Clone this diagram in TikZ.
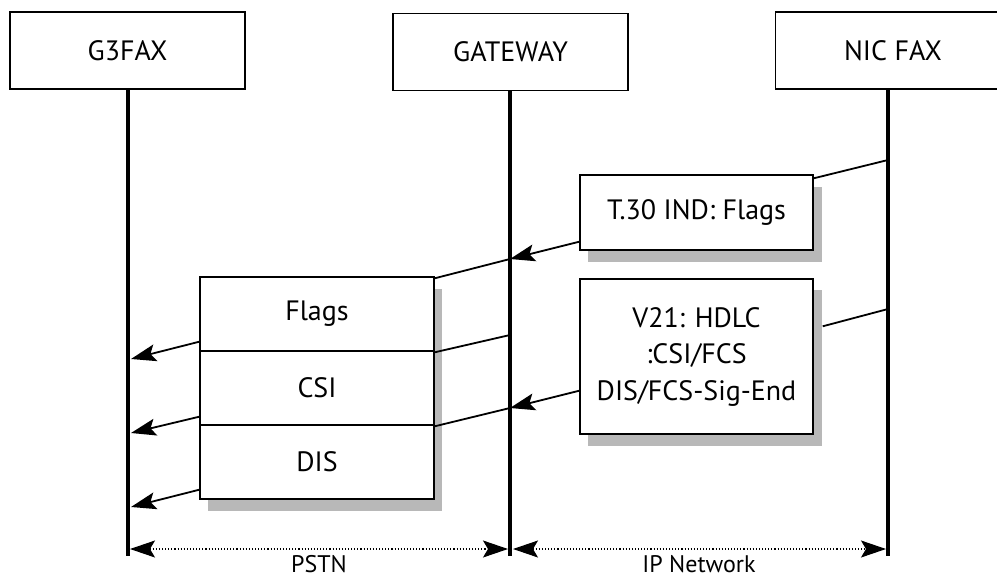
\documentclass[tikz,border=0pt]{standalone}
\usepackage{fontspec}
\setmainfont{PT Sans}
\usetikzlibrary{arrows.meta,calc}

\tikzset{
  head/.tip={Stealth[length=25pt,width=17pt,inset=5pt]},
  party/.style={draw,line width=1.4pt,minimum width=235pt,minimum height=77pt,inner sep=0pt,font=\fontsize{28}{32}\selectfont},
  msg/.style={draw,line width=1.4pt,fill=white,inner sep=0pt,align=center,font=\fontsize{28}{36.5}\selectfont},
  shade/.style={fill=black!28,draw=none},
  life/.style={line width=3.2pt},
  sig/.style={line width=1.8pt},
  sigarrow/.style={sig,-head},
  netspan/.style={dotted,line width=1.1pt,head-head},
  zone/.style={font=\fontsize{24}{26}\selectfont,anchor=base,inner sep=0pt}
}

\begin{document}
\begin{tikzpicture}[x=1pt,y=-1pt]
\useasboundingbox (0,0) rectangle (997,579);

% the three parties
\node[party] (g3)  at (127.5,50.5) {G3FAX};
\node[party] (gw)  at (510.5,52)   {GATEWAY};
\node[party] (nic) at (893,50.5)   {NIC FAX};

% lifelines
\coordinate (g3end)  at (128,556);
\coordinate (gwend)  at (510,556);
\coordinate (nicend) at (888,556);
\draw[life] (g3end |- g3.south) -- (g3end);
\draw[life] (gwend |- gw.south) -- (gwend);
\draw[life] (nicend |- nic.south) -- (nicend);

% shadows
\fill[shade] (588,187) rectangle (822,262);
\fill[shade] (588,290) rectangle (822,446);
\fill[shade] (208,289) rectangle (442,511);

% messages over the IP side
\node[msg,minimum width=233pt,minimum height=75pt] (t30) at (696.5,212.5) {T.30 IND: Flags};
\node[msg,minimum width=233pt,minimum height=155pt] (v21) at (696.5,356.5) {V21: HDLC\\:CSI/FCS\\DIS/FCS-Sig-End};

% frames over the PSTN side
\node[msg,minimum width=234pt,minimum height=74pt] (flags) at (317,314) {Flags};
\node[msg,minimum width=234pt,minimum height=74pt] (csi)   at (317,388) {CSI};
\node[msg,minimum width=234pt,minimum height=74pt] (dis)   at (317,462) {DIS};

% lifeline points
\coordinate (n1) at (888,160);
\coordinate (n2) at (888,309);
\coordinate (w1) at (510,259);
\coordinate (w2) at (510,335);
\coordinate (w3) at (510,408);
\coordinate (a1) at (131,359);
\coordinate (a2) at (131,433);
\coordinate (a3) at (131,507);

% signals
\draw[sig] (n1) -- ($(t30.north east)+(0,4)$);
\draw[sigarrow] ($(t30.south west)+(0,-9)$) -- (w1);
\draw[sig] (w1) -- ($(flags.north east)+(0,2)$);
\draw[sig] (n2) -- ($(v21.north east)+(9,48)$);
\draw[sigarrow] ($(v21.south west)+(0,-44)$) -- (w3);
\draw[sig] (w2) -- ($(csi.north east)+(0,2)$);
\draw[sig] (w3) -- ($(dis.north east)+(0,2)$);
\draw[sigarrow] ($(flags.south west)+(0,-10)$) -- (a1);
\draw[sigarrow] ($(csi.south west)+(0,-9)$) -- (a2);
\draw[sigarrow] ($(dis.south west)+(0,-10)$) -- (a3);

% network spans
\coordinate (s1) at (130,549);
\coordinate (s2) at (508,549);
\coordinate (s3) at (513,549);
\coordinate (s4) at (886,549);
\draw[netspan] (s1) -- (s2);
\draw[netspan] (s3) -- (s4);
\node[zone] (pstn) at (319,572) {PSTN};
\node[zone] (ipn)  at (699,572) {IP Network};
\end{tikzpicture}
\end{document}
